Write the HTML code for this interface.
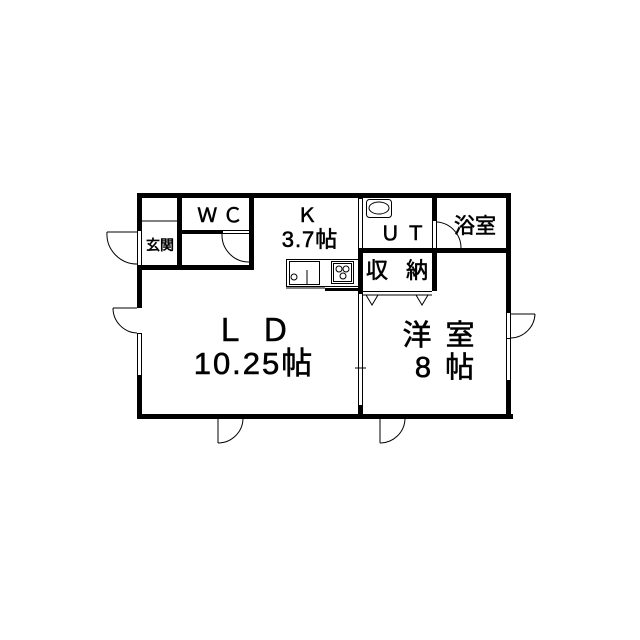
<!DOCTYPE html>
<html><head><meta charset="utf-8"><style>body{margin:0;background:#fff}svg{display:block}</style></head><body>
<svg width="640" height="640" viewBox="0 0 640 640" xmlns="http://www.w3.org/2000/svg" font-family="Liberation Sans, Noto Sans CJK JP, sans-serif">
<rect width="640" height="640" fill="#fff"/>
<g fill="#000">
<rect x="137" y="193" width="374" height="5"/>
<rect x="137" y="414" width="376" height="5"/>
<rect x="137" y="193" width="5" height="37"/>
<rect x="137" y="265" width="5" height="43"/>
<rect x="137" y="375" width="5" height="44"/>
<rect x="506" y="193" width="5" height="119"/>
<rect x="506" y="380" width="5" height="39"/>
<rect x="137" y="265" width="116" height="5"/>
<rect x="249" y="193" width="5" height="77"/>
<rect x="177" y="193" width="5" height="77"/>
<rect x="177" y="230" width="45" height="4"/>
<rect x="358" y="193" width="4" height="6"/>
<rect x="358" y="248" width="5" height="45"/>
<rect x="358" y="405" width="5" height="14"/>
<rect x="362" y="248" width="149" height="5"/>
<rect x="432" y="193" width="5" height="27"/>
<rect x="432" y="253" width="5" height="38"/>
<rect x="325" y="288" width="35" height="3"/>
</g>
<g fill="none" stroke="#000" stroke-width="1">
<line x1="142" y1="221" x2="177" y2="221"/>
<rect x="137.5" y="230.5" width="4" height="35"/>
<path d="M107 232 L137 232 M107 232 A30 30 0 0 0 137 264"/>
<rect x="222.5" y="230.5" width="27" height="3"/>
<path d="M222 234 A27 27 0 0 0 249 262"/>
<rect x="286.5" y="259.5" width="72" height="27"/>
<rect x="289.5" y="261.5" width="30" height="23"/>
<circle cx="294" cy="277" r="3"/>
<line x1="307" y1="270" x2="307" y2="284"/>
<rect x="331.5" y="261.5" width="22" height="22"/>
<rect x="333.5" y="263.5" width="18" height="18"/>
<circle cx="339" cy="269" r="3"/><circle cx="346" cy="269" r="3"/><circle cx="343" cy="276" r="3"/>
<line x1="286" y1="288" x2="325" y2="288"/>
<rect x="358.5" y="198.5" width="4" height="50"/>
<rect x="358.5" y="293.5" width="4" height="112"/>
<line x1="355" y1="368" x2="366" y2="368"/>
<rect x="366.5" y="199.5" width="25" height="18" rx="3"/>
<ellipse cx="379" cy="208" rx="10" ry="6"/>
<rect x="432.5" y="220.5" width="4" height="28"/>
<path d="M437 222 A26 26 0 0 1 461 248"/>
<line x1="362" y1="291.5" x2="432" y2="291.5"/>
<line x1="362" y1="295" x2="432" y2="295"/>
<path d="M366 295 L372 305 L378 295 M416 295 L422 305 L428 295"/>
<path d="M113 308 L137 308 M113 308 A25 25 0 0 0 137 333"/>
<rect x="137.5" y="333.5" width="4" height="42"/>
<rect x="506.5" y="312.5" width="4" height="26"/>
<path d="M535 314 L511 314 M535 314 A25 25 0 0 1 511 338"/>
<rect x="506.5" y="338.5" width="4" height="42"/>
<rect x="218.5" y="414.5" width="25" height="4"/>
<path d="M218 419 L218 443 M218 443 A25 25 0 0 0 243 419"/>
<rect x="243.5" y="414.5" width="42" height="4"/>
<rect x="380.5" y="414.5" width="25" height="4"/>
<path d="M380 419 L380 443 M380 443 A25 25 0 0 0 405 419"/>
<rect x="405.5" y="414.5" width="42" height="4"/>
</g>
<g fill="#000" stroke="#000" stroke-width="0.6" text-anchor="middle">
<text x="220" y="222" font-size="20">Ｗ Ｃ</text>
<text x="307" y="222" font-size="20">Ｋ</text>
<text x="310" y="247" font-size="22" letter-spacing="1">3.7帖</text>
<text x="160" y="250" font-size="14">玄関</text>
<text x="403" y="240" font-size="20">Ｕ Ｔ</text>
<text x="475" y="233" font-size="21">浴室</text>
<text x="400" y="278" font-size="22" letter-spacing="6">収 納</text>
<text x="254" y="341" font-size="31" letter-spacing="3">Ｌ Ｄ</text>
<text x="254" y="374" font-size="31" letter-spacing="2">10.25帖</text>
<text x="440" y="345" font-size="29" letter-spacing="3">洋 室</text>
<text x="446" y="377" font-size="29" letter-spacing="3">8 帖</text>
</g>
</svg>
</body></html>
